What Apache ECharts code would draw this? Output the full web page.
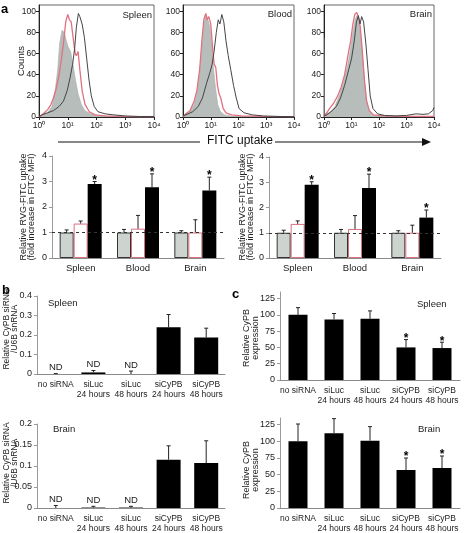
<!DOCTYPE html>
<html><head><meta charset="utf-8">
<script src="https://cdn.jsdelivr.net/npm/echarts@6/dist/echarts.min.js"></script>
<style>html,body{margin:0;padding:0;background:#fff}#wrap{position:relative;width:465px;height:533px}
#h{position:absolute;left:0;top:0;width:465px;height:135px}
#c{position:absolute;left:0;top:0;width:465px;height:533px}</style>
</head><body><div id="wrap"><div id="h"></div><div id="c"></div></div>
<script>
// ---------- DATA ----------
// Histograms: [log10(FITC intensity), counts]
const spleenCtrl = [[0.05,0],[0.15,2],[0.3,4],[0.45,10],[0.55,22],[0.65,45],[0.72,70],[0.8,82],[0.88,80],[0.95,72],[1.02,66],[1.1,62],[1.18,50],[1.27,35],[1.36,22],[1.47,12],[1.6,6],[1.8,3],[2.1,1],[2.6,0.5],[3.0,0.3],[4,0]];
const spleenLuc  = [[0,0],[0.15,3],[0.3,7],[0.42,12],[0.5,18],[0.6,27],[0.7,40],[0.78,55],[0.86,72],[0.93,90],[1.0,97],[1.06,92],[1.12,90],[1.2,72],[1.26,60],[1.3,58],[1.36,62],[1.42,45],[1.5,25],[1.6,12],[1.75,5],[1.95,2],[2.3,1],[3,0.3],[4,0.2]];
const spleenRVG  = [[0,0],[0.1,2],[0.3,4],[0.5,6],[0.7,10],[0.85,15],[0.98,25],[1.08,37],[1.17,50],[1.24,65],[1.3,85],[1.37,98],[1.42,95],[1.5,88],[1.58,75],[1.66,55],[1.74,35],[1.82,20],[1.92,10],[2.05,5],[2.3,3],[2.6,2],[3.0,1],[3.5,0.5],[4,0.5]];
const bloodCtrl  = [[0.05,2],[0.25,5],[0.4,12],[0.5,22],[0.6,40],[0.68,65],[0.76,88],[0.83,97],[0.9,92],[0.97,85],[1.04,65],[1.1,45],[1.17,28],[1.25,12],[1.35,5],[1.5,2],[1.8,0.5],[4,0]];
const bloodLuc   = [[0,0],[0.1,3],[0.25,6],[0.4,15],[0.5,25],[0.6,45],[0.68,72],[0.75,92],[0.82,98],[0.87,92],[0.93,95],[1.0,88],[1.06,68],[1.12,50],[1.18,47],[1.24,30],[1.3,22],[1.36,18],[1.45,8],[1.55,4],[1.75,2],[2.1,1],[2.8,0.5],[4,0.3]];
const bloodRVG   = [[0,1],[0.1,2],[0.35,5],[0.55,10],[0.7,18],[0.85,32],[0.97,42],[1.05,50],[1.12,62],[1.2,80],[1.27,92],[1.33,88],[1.4,97],[1.47,90],[1.55,72],[1.63,58],[1.72,45],[1.82,30],[1.92,18],[2.02,8],[2.2,4],[2.5,2],[2.9,1],[3.5,0.5],[4,0.3]];
const brainCtrl  = [[0,75],[0.02,3],[0.2,4],[0.4,10],[0.55,20],[0.7,32],[0.85,48],[0.95,62],[1.05,80],[1.13,92],[1.2,96],[1.28,88],[1.36,70],[1.44,45],[1.52,20],[1.6,8],[1.75,2],[2,0.5],[4,0]];
const brainLuc   = [[0,0],[0.1,4],[0.2,8],[0.35,13],[0.5,20],[0.62,28],[0.75,40],[0.87,58],[0.97,72],[1.05,88],[1.12,97],[1.19,99],[1.25,95],[1.32,85],[1.4,60],[1.47,35],[1.55,15],[1.65,6],[1.8,2],[2.2,1],[3,0.5],[4,0.5]];
const brainRVG   = [[0,1],[0.1,2],[0.3,6],[0.45,10],[0.6,18],[0.75,30],[0.9,45],[1.0,55],[1.1,72],[1.18,90],[1.25,96],[1.31,88],[1.37,95],[1.44,90],[1.52,70],[1.6,45],[1.68,20],[1.78,8],[1.95,3],[2.2,1.5],[2.6,1],[3.0,1.5],[3.35,3],[3.6,2.5],[3.8,3],[3.95,6],[4,9]];
const histTicks = ['10⁰','10¹','10²','10³','10⁴'];

// Panel a bar charts
const aCats = ['Spleen','Blood','Brain'];
const a1Ctrl = [1.0,1.0,1.0],   a1CtrlErr = [0.1,0.12,0.07];
const a1Luc  = [1.35,1.15,1.0], a1LucErr  = [0.1,0.52,0.5];
const a1RVG  = [2.9,2.77,2.65], a1RVGErr  = [0.1,0.53,0.52];
const a2Ctrl = [1.0,1.0,1.0],   a2CtrlErr = [0.1,0.13,0.08];
const a2Luc  = [1.35,1.15,1.0], a2LucErr  = [0.12,0.53,0.3];
const a2RVG  = [2.9,2.77,1.6],  a2RVGErr  = [0.12,0.55,0.3];

// Panel b / c
const siCats = ['no siRNA','siLuc\n24 hours','siLuc\n48 hours','siCyPB\n24 hours','siCyPB\n48 hours'];
const bSpleen = [0,0.008,0,0.24,0.187],   bSpleenErr = [0.002,0.01,0.015,0.065,0.048];
const bBrain  = [0,0.001,0.001,0.115,0.107], bBrainErr = [0.006,0.003,0.003,0.033,0.053];
const bND = [1,1,1,0,0];
const cSpleen = [100,93,94,50,49], cSpleenErr = [11,9,12,12,9];
const cBrain  = [100,112,101,57,60], cBrainErr = [26,22,21,18,18];
const cSig = [0,0,0,1,1];

// ---------- CHARTS ----------
const FONT = '"Liberation Sans", Arial, Helvetica, sans-serif';
const NARROW = '"Liberation Sans Narrow", "Arial Narrow", "Liberation Sans", Arial, sans-serif';

// --- histogram chart (top row) ---
function histX(i){
  return {gridIndex:i, type:'value', min:0, max:4, interval:1,
    axisLine:{onZero:false, lineStyle:{color:'#222'}}, axisTick:{length:3, lineStyle:{color:'#222'}},
    splitLine:{show:false},
    axisLabel:{fontFamily:NARROW, fontSize:8.5, color:'#222', margin:4, formatter:v=>histTicks[v]}};
}
function histY(i){
  return {gridIndex:i, type:'value', min:0, max:106, interval:20,
    axisLine:{show:true, onZero:false, lineStyle:{color:'#222'}},
    axisTick:{show:true, length:3, lineStyle:{color:'#222'}},
    splitLine:{show:false},
    axisLabel:{show:true, fontFamily:NARROW, fontSize:8.5, color:'#222', margin:3}};
}
function histSeries(i, ctrl, luc, rvg){
  return [
    {type:'line', xAxisIndex:i, yAxisIndex:i, data:ctrl, showSymbol:false,
      lineStyle:{width:0.6, color:'#a9afac'}, areaStyle:{color:'#b7bdba', opacity:1}, z:2},
    {type:'line', xAxisIndex:i, yAxisIndex:i, data:luc, showSymbol:false,
      lineStyle:{width:1.3, color:'#e0717f'}, z:3},
    {type:'line', xAxisIndex:i, yAxisIndex:i, data:rvg, showSymbol:false,
      lineStyle:{width:1, color:'#454545'}, z:4}
  ];
}
const hChart = echarts.init(document.getElementById('h'), null, {renderer:'canvas'});
hChart.setOption({
  animation:false,
  grid:[
    {left:39, top:5, width:115, height:112, show:true, borderColor:'#666', borderWidth:1},
    {left:183, top:5, width:111, height:112, show:true, borderColor:'#666', borderWidth:1},
    {left:324, top:5, width:110, height:112, show:true, borderColor:'#666', borderWidth:1}
  ],
  xAxis:[histX(0), histX(1), histX(2)],
  yAxis:[histY(0), histY(1), histY(2)],
  series:[].concat(
    histSeries(0, spleenCtrl, spleenLuc, spleenRVG),
    histSeries(1, bloodCtrl, bloodLuc, bloodRVG),
    histSeries(2, brainCtrl, brainLuc, brainRVG))
});

// --- bar charts ---
function catX(i, cats, fs, fam){
  return {gridIndex:i, type:'category', data:cats,
    axisLine:{lineStyle:{color:'#8a8a8a'}}, axisTick:{show:false},
    axisLabel:{interval:0, fontFamily:fam||FONT, fontSize:fs, color:'#222', margin:6, lineHeight:9.5}};
}
function valY(i, max, interval){
  return {gridIndex:i, type:'value', min:0, max:max, interval:interval,
    axisLine:{show:true, lineStyle:{color:'#9a9a9a'}}, axisTick:{show:true, length:3, lineStyle:{color:'#9a9a9a'}},
    splitLine:{show:false},
    axisLabel:{fontFamily:FONT, fontSize:9, color:'#222', margin:5}};
}
function errRender(offset, opts){
  opts = opts || {};
  return function(params, api){
    const c = api.value(0), v = api.value(1), e = api.value(2), flag = api.value(3);
    const p0 = api.coord([c, v]);
    const p1 = api.coord([c, v + e]);
    const x = p0[0] + offset;
    const col = '#222';
    const ch = [
      {type:'line', shape:{x1:x, y1:p0[1], x2:x, y2:p1[1]}, style:{stroke:col, lineWidth:1}},
      {type:'line', shape:{x1:x-2, y1:p1[1], x2:x+2, y2:p1[1]}, style:{stroke:col, lineWidth:1}}
    ];
    if (opts.star && flag) ch.push({type:'text', style:{text:'*', x:x, y:p1[1]-1, textAlign:'center', textVerticalAlign:'middle', font:'bold 12px '+FONT, fill:'#000'}});
    if (opts.nd && flag) ch.push({type:'text', style:{text:'ND', x:x, y:p1[1]-1, textAlign:'center', textVerticalAlign:'bottom', font:'9.5px '+FONT, fill:'#222'}});
    return {type:'group', children:ch};
  };
}
function errData(vals, errs, flags){ return vals.map((v,i)=>[i, v, errs[i], flags ? flags[i] : 0]); }
function groupSeries(i, ctrl, ctrlE, luc, lucE, rvg, rvgE){
  const bw = 14;
  return [
    {type:'bar', xAxisIndex:i, yAxisIndex:i, data:ctrl, barWidth:bw, barGap:'0%',
      itemStyle:{color:'#cdd4d0', borderColor:'#333', borderWidth:1},
      markLine:{silent:true, symbol:'none', label:{show:false}, lineStyle:{type:[3,3], color:'#333', width:1}, data:[{yAxis:1}], z:5}},
    {type:'bar', xAxisIndex:i, yAxisIndex:i, data:luc, barWidth:bw, barGap:'0%',
      itemStyle:{color:'#ffffff', borderColor:'#d9707e', borderWidth:1}},
    {type:'bar', xAxisIndex:i, yAxisIndex:i, data:rvg, barWidth:bw, barGap:'0%',
      itemStyle:{color:'#000'}},
    {type:'custom', xAxisIndex:i, yAxisIndex:i, renderItem:errRender(-bw), data:errData(ctrl, ctrlE), z:6},
    {type:'custom', xAxisIndex:i, yAxisIndex:i, renderItem:errRender(0), data:errData(luc, lucE), z:6},
    {type:'custom', xAxisIndex:i, yAxisIndex:i, renderItem:errRender(bw, {star:true}), data:errData(rvg, rvgE, [1,1,1]), z:6}
  ];
}
function siSeries(i, vals, errs, bw, opts, flags){
  return [
    {type:'bar', xAxisIndex:i, yAxisIndex:i, data:vals, barWidth:bw, itemStyle:{color:'#000'}},
    {type:'custom', xAxisIndex:i, yAxisIndex:i, renderItem:errRender(0, opts), data:errData(vals, errs, flags), z:6}
  ];
}

const aName = 'Relative RVG-FITC uptake\n(fold increase in FITC MFI)';
const bName = 'Relative CyPB siRNA\n/U6B snRNA';
const cName = 'Relative CyPB\nexpression';
const txt = (t, x, y, o) => Object.assign({type:'text', left:x, top:y, style:{text:t, font:'9.5px '+FONT, fill:'#222'}}, o||{});
const vtxt = (t, cx, cy, fs, lh) => ({type:'text', x:cx, y:cy, rotation:Math.PI/2,
  style:{text:t, x:0, y:0, textAlign:'center', textVerticalAlign:'middle', font:(fs||9)+'px '+FONT, lineHeight:lh||((fs||9)+0.5), fill:'#222'}});

const chart = echarts.init(document.getElementById('c'), null, {renderer:'canvas'});
chart.setOption({
  animation:false,
  grid:[
    {left:52, top:156, width:172, height:102},
    {left:269, top:157, width:172, height:101},
    {left:37, top:296, width:188, height:78},
    {left:37, top:424, width:188, height:85},
    {left:280, top:292, width:180, height:88},
    {left:280, top:418, width:180, height:90}
  ],
  xAxis:[catX(0, aCats, 9.5), catX(1, aCats, 9.5),
    catX(2, siCats, 8.5, NARROW), catX(3, siCats, 8.5, NARROW), catX(4, siCats, 8.5, NARROW), catX(5, siCats, 8.5, NARROW)],
  yAxis:[valY(0, 4, 1), valY(1, 4, 1), valY(2, 0.4, 0.1), valY(3, 0.2, 0.05), valY(4, 135, 25), valY(5, 135, 25)],
  series:[].concat(
    groupSeries(0, a1Ctrl, a1CtrlErr, a1Luc, a1LucErr, a1RVG, a1RVGErr),
    groupSeries(1, a2Ctrl, a2CtrlErr, a2Luc, a2LucErr, a2RVG, a2RVGErr),
    siSeries(2, bSpleen, bSpleenErr, 24, {nd:true}, bND),
    siSeries(3, bBrain, bBrainErr, 24, {nd:true}, bND),
    siSeries(4, cSpleen, cSpleenErr, 19, {star:true}, cSig),
    siSeries(5, cBrain, cBrainErr, 19, {star:true}, cSig)
  ),
  graphic:[
    txt('a', 1, 3, {style:{text:'a', font:'bold 13px '+FONT, fill:'#000'}}),
    txt('b', 2, 284, {style:{text:'b', font:'bold 13px '+FONT, fill:'#000'}}),
    txt('c', 232, 288, {style:{text:'c', font:'bold 13px '+FONT, fill:'#000'}}),
    vtxt('Counts', 21.5, 61, 9.5),
    vtxt(aName, 27.5, 207, 9, 8.5),
    vtxt(aName, 246.5, 207, 9, 8.5),
    vtxt(bName, 10.5, 329, 8.5, 8.5),
    vtxt(bName, 10.5, 463, 8.5, 8.5),
    vtxt(cName, 251, 338, 9, 8.5),
    vtxt(cName, 251, 470, 9, 8.5),
    {type:'text', right:465-152, top:10, style:{text:'Spleen', font:'9.5px '+FONT, fill:'#222'}},
    {type:'text', right:465-292, top:9, style:{text:'Blood', font:'9.5px '+FONT, fill:'#222'}},
    {type:'text', right:465-432, top:9, style:{text:'Brain', font:'9.5px '+FONT, fill:'#222'}},
    txt('Spleen', 48, 298),
    txt('Brain', 53, 424),
    txt('Spleen', 417, 299),
    txt('Brain', 418, 424),
    {type:'line', shape:{x1:58, y1:142, x2:200, y2:142}, style:{stroke:'#111', lineWidth:1.2}},
    {type:'text', left:207, top:135, style:{text:'FITC uptake', font:'12px '+FONT, fill:'#111'}},
    {type:'line', shape:{x1:275, y1:142, x2:424, y2:142}, style:{stroke:'#111', lineWidth:1.2}},
    {type:'polygon', shape:{points:[[422,138],[431,142],[422,146]]}, style:{fill:'#111'}}
  ]
});
</script>
</body></html>
